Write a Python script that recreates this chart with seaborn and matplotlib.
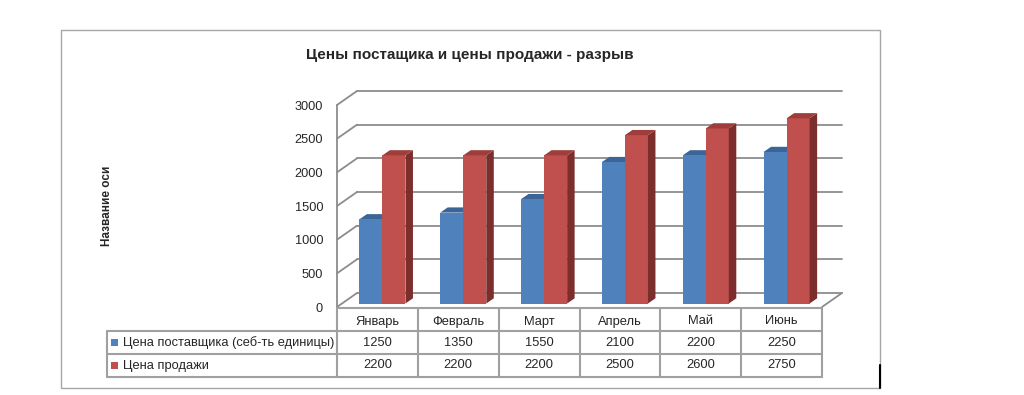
import numpy as np
import pandas as pd
import seaborn as sns
import matplotlib
matplotlib.use('Agg')
from matplotlib import pyplot as plt
from matplotlib.patches import Polygon, Rectangle
from matplotlib.lines import Line2D

months = ['Январь', 'Февраль', 'Март', 'Апрель', 'Май', 'Июнь']
series_names = ['Цена поставщика (себ-ть единицы)', 'Цена продажи']
supplier_price = [1250, 1350, 1550, 2100, 2200, 2250]
sale_price = [2200, 2200, 2200, 2500, 2600, 2750]
y_ticks = [0, 500, 1000, 1500, 2000, 2500, 3000]

title = 'Цены постащика и цены продажи - разрыв'
y_label = 'Название оси'

front_colors = ['#4F81BD', '#C0504D']
top_colors = ['#3A6596', '#9E3D3A']
side_colors = ['#2F5482', '#7C2E2C']
grid_color = '#8C8C8C'
table_color = '#A0A0A0'

W, H = 1024, 395

sns.set_style('white')
plt.rcParams['font.family'] = ['Liberation Sans', 'DejaVu Sans']

fig = plt.figure(figsize=(W / 100, H / 100), dpi=100)

# main plot area = front plane of the 3d box
ax = fig.add_axes([337 / W, 88 / H, 485 / W, 202 / H])

df = pd.DataFrame({
    'month': months * 2,
    'price': supplier_price + sale_price,
    'series': [series_names[0]] * 6 + [series_names[1]] * 6,
})

sns.barplot(data=df, x='month', y='price', hue='series', palette=front_colors,
            width=0.57, dodge=True, saturation=1, legend=False, ax=ax,
            linewidth=0)

ax.set_xlim(-0.5, 5.5)
ax.set_ylim(0, 3000)
ax.set_yticks(y_ticks)
ax.set_yticklabels([str(v) for v in y_ticks], fontsize=9.2)
ax.tick_params(axis='y', length=0, pad=10)
ax.set_xticks([])
ax.set_xlabel('')
ax.set_ylabel('')
for s in ax.spines.values():
    s.set_visible(False)
ax.patch.set_alpha(0)

# 3d geometry (pixels)
wall_dx, wall_dy = 20, 14
bar_dx, bar_dy = 5, 3.5
depth_dx, depth_dy = 7.5, 5.2

to_fig = fig.transFigure.inverted()


def disp(x, y):
    return ax.transData.transform((x, y))


def figpt(p):
    return to_fig.transform(p)


def fig_line(p1, p2, color=grid_color, lw=1.3, z=1):
    a, b = figpt(p1), figpt(p2)
    fig.add_artist(Line2D([a[0], b[0]], [a[1], b[1]], color=color, lw=lw,
                          transform=fig.transFigure, zorder=z))


# back wall gridlines and side diagonals
for v in y_ticks:
    fl = disp(-0.5, v)
    fr = disp(5.5, v)
    bl = fl + np.array([wall_dx, wall_dy])
    br = fr + np.array([wall_dx, wall_dy])
    fig_line(bl, br)
    fig_line(fl, bl)
fig_line(disp(-0.5, 0), disp(-0.5, 3000))
fig_line(disp(5.5, 0), disp(5.5, 0) + np.array([wall_dx, wall_dy]))

# bars: redraw each seaborn bar as a box (front, top, side), set a bit back
bars = [p for p in ax.patches if p.get_height() > 0]
for p in bars:
    x0, y0 = p.get_x(), p.get_y()
    x1, y1 = x0 + p.get_width(), y0 + p.get_height()
    fc = matplotlib.colors.to_hex(p.get_facecolor())
    k = 0 if fc.upper() == front_colors[0].upper() else 1
    off = np.array([bar_dx, bar_dy])
    d = np.array([depth_dx, depth_dy])
    lb = disp(x0, y0) + off
    rb = disp(x1, y0) + off
    lt = disp(x0, y1) + off
    rt = disp(x1, y1) + off
    top = [figpt(q) for q in (lt, rt, rt + d, lt + d)]
    side = [figpt(q) for q in (rb, rt, rt + d, rb + d)]
    front = [figpt(q) for q in (lb, rb, rt, lt)]
    z = 2 if k == 0 else 4
    fig.add_artist(Polygon(side, closed=True, fc=side_colors[k], ec='none',
                           transform=fig.transFigure, zorder=z))
    fig.add_artist(Polygon(top, closed=True, fc=top_colors[k], ec='none',
                           transform=fig.transFigure, zorder=z))
    fig.add_artist(Polygon(front, closed=True, fc=front_colors[k], ec='none',
                           transform=fig.transFigure, zorder=3))
    p.set_visible(False)

# data table under the plot
row_tops = [308, 331, 354, 377]   # pixel rows from top
left_edge = 107


def py(y):
    return H - y


col_edges = [disp(i - 0.5, 0)[0] for i in range(len(months) + 1)]
x_left = col_edges[0]
x_right = col_edges[-1]

fig_line((x_left, py(row_tops[0])), (x_right, py(row_tops[0])), color=table_color, lw=1.5, z=5)
for y in row_tops[1:]:
    fig_line((left_edge, py(y)), (x_right, py(y)), color=table_color, lw=1.5, z=5)
for x in col_edges:
    fig_line((x, py(row_tops[0])), (x, py(row_tops[-1])), color=table_color, lw=1.5, z=5)
fig_line((left_edge, py(row_tops[1])), (left_edge, py(row_tops[-1])), color=table_color, lw=1.5, z=5)

for i, m in enumerate(months):
    cx = disp(i, 0)[0]
    c = figpt((cx, py((row_tops[0] + row_tops[1]) / 2 + 2)))
    fig.text(c[0], c[1], m, ha='center', va='center', fontsize=9.3)
    for r, vals in enumerate([supplier_price, sale_price]):
        c = figpt((cx, py((row_tops[r + 1] + row_tops[r + 2]) / 2)))
        fig.text(c[0], c[1], str(vals[i]), ha='center', va='center', fontsize=9.3)

for r, name in enumerate(series_names):
    yc = (row_tops[r + 1] + row_tops[r + 2]) / 2
    sq = figpt((111, py(yc + 3.5)))
    fig.add_artist(Rectangle(sq, 7 / W, 7 / H, fc=front_colors[r], ec='none',
                             transform=fig.transFigure, zorder=6))
    c = figpt((123, py(yc)))
    fig.text(c[0], c[1], name, ha='left', va='center', fontsize=9.3)

# title and axis title
fig.text(470 / W, 1 - 55 / H, title, ha='center', va='center',
         fontsize=11, fontweight='bold')
fig.text(107 / W, 1 - 206 / H, y_label, ha='center', va='center',
         rotation=90, fontsize=8.5, fontweight='bold')

# chart border
fig.add_artist(Rectangle((61 / W, 1 - 388 / H), (880 - 61) / W, (388 - 30) / H,
                         fill=False, ec='#A6A6A6', lw=1.0, transform=fig.transFigure))
fig.add_artist(Line2D([880 / W, 880 / W], [1 - 365 / H, 1 - 388 / H], color='black',
                      lw=1.5, transform=fig.transFigure))

fig.savefig('out.png', dpi=100)
